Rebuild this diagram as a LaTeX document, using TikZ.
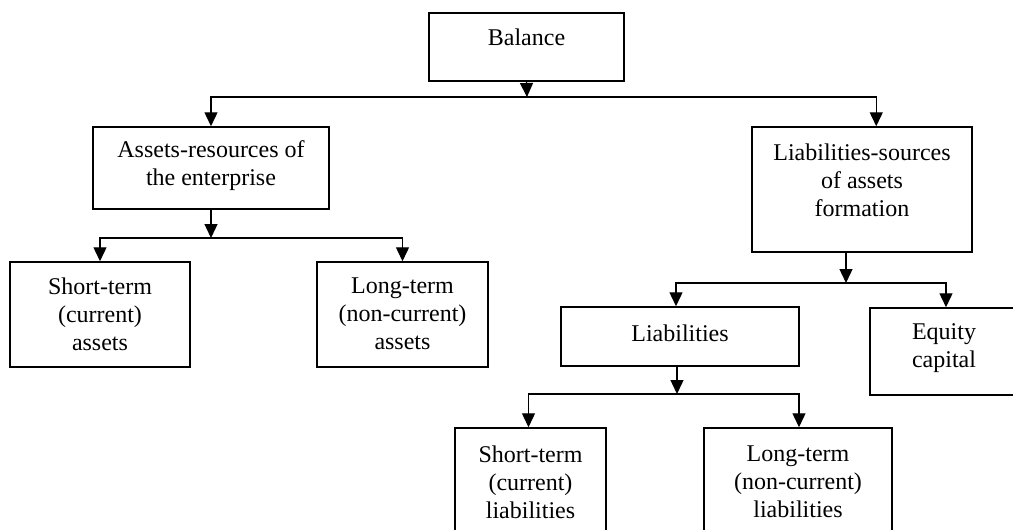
\documentclass[tikz,border=0pt]{standalone}
\usepackage{fontspec}
\setmainfont{Liberation Serif}
\usetikzlibrary{arrows.meta,calc}
\begin{document}
\begin{tikzpicture}[x=1pt,y=-1pt,
  box/.style={draw, line width=1.5pt, inner sep=0pt, rectangle},
  txt/.style={align=center, inner sep=0pt, font=\fontsize{24}{28}\selectfont},
  arr/.style={line width=1.4pt, -{Triangle[width=13pt,length=14pt]}}]
\useasboundingbox (0,0) rectangle (1013,530);
\clip (0,0) rectangle (1013,530);
% boxes
\node[box, minimum width=195pt, minimum height=68pt] (bal) at (526.5,47) {};
\node[txt] (balT) at (526.5,37) {Balance};
\node[box, minimum width=236pt, minimum height=82pt] (as) at (211,168) {};
\node[txt] (asT) at (211,166) {Assets-resources of\\the enterprise};
\node[box, minimum width=220pt, minimum height=125pt] (ls) at (862,189.5) {};
\node[txt] (lsT) at (862,180) {Liabilities-sources\\of assets\\formation};
\node[box, minimum width=180pt, minimum height=105pt] (sa) at (100,314.5) {};
\node[txt] (saT) at (100,314) {Short-term\\(current)\\assets};
\node[box, minimum width=171pt, minimum height=105pt] (la) at (402.5,314.5) {};
\node[txt] (laT) at (402.5,314) {Long-term\\(non-current)\\assets};
\node[box, minimum width=238pt, minimum height=59pt] (li) at (680,336.5) {};
\node[txt] (liT) at (680,333) {Liabilities};
\node[box, minimum width=148pt, minimum height=87pt] (eq) at (944,351.5) {};
\node[txt] (eqT) at (944,348) {Equity\\capital};
\node[box, minimum width=151pt, minimum height=110pt] (sl) at (530.5,483) {};
\node[txt] (slT) at (530.5,482) {Short-term\\(current)\\liabilities};
\node[box, minimum width=188pt, minimum height=110pt] (ll) at (798,483) {};
\node[txt] (llT) at (798,482) {Long-term\\(non-current)\\liabilities};
% connectors
\coordinate (b0) at (527,97);
\draw[arr] (bal.south) -- (b0);
\draw[arr] (b0) -| (as.north);
\draw[arr] (b0) -| ($(ls.north west)+(125,0)$);
\coordinate (b2) at (211,238);
\draw[arr] (as.south) -- (b2);
\draw[arr] (b2) -| (sa.north);
\draw[arr] (b2) -| (la.north);
\coordinate (b3) at (846,283);
\draw[arr] (ls.south -| b3) -- (b3);
\draw[arr] (b3) -| ($(li.north)+(-4,0)$);
\draw[arr] (b3) -| ($(eq.north)+(2,0)$);
\coordinate (b4) at (677,394);
\draw[arr] (li.south -| b4) -- (b4);
\draw[arr] (b4) -| ($(sl.north)+(-2,0)$);
\draw[arr] (b4) -| ($(ll.north)+(1,0)$);
\end{tikzpicture}
\end{document}
